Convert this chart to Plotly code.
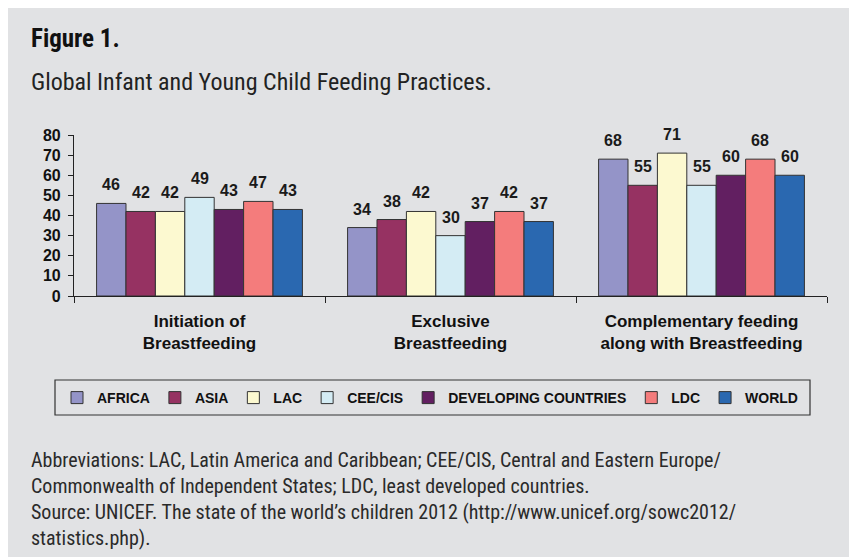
import plotly.graph_objects as go

categories = ["Initiation of<br>Breastfeeding", "Exclusive<br>Breastfeeding",
              "Complementary feeding<br>along with Breastfeeding"]
series_names = ["AFRICA", "ASIA", "LAC", "CEE/CIS", "DEVELOPING COUNTRIES", "LDC", "WORLD"]
africa = [46, 34, 68]
asia = [42, 38, 55]
lac = [42, 42, 71]
cee_cis = [49, 30, 55]
developing = [43, 37, 60]
ldc = [47, 42, 68]
world = [43, 37, 60]
y_ticks = [0, 10, 20, 30, 40, 50, 60, 70, 80]

series_values = [africa, asia, lac, cee_cis, developing, ldc, world]
colors = ["#9494c8", "#963262", "#fcf9d0", "#d4ecf4", "#621f61", "#f47c7c", "#2a68b0"]

# page offset (browser body margin)
OFF = 8
W, H = 857 - OFF, 557 - OFF
ML, MR, MT, MB = 74 - OFF, 30, 135 - OFF, 261
PW = W - ML - MR
PH = H - MT - MB
BARGAP = 0.18
NS = len(series_names)
BAR_PX = PW / len(categories) * (1 - BARGAP) / NS


def px(x):
    return (x - OFF - ML) / PW


def py(y):
    return (H - MB - (y - OFF)) / PH


BOLD = "Liberation Sans, Arial, sans-serif"
NARROW = "Liberation Sans Narrow, Arial Narrow, Roboto Condensed, sans-serif"

fig = go.Figure()
annotations = []
for i, (name, vals, col) in enumerate(zip(series_names, series_values, colors)):
    fig.add_trace(go.Bar(
        x=categories, y=vals, name=name,
        marker=dict(color=col, line=dict(color="#333333", width=1)),
    ))
    for cat, v in zip(categories, vals):
        annotations.append(dict(
            x=cat, y=v, xref="x", yref="y", text=str(v), showarrow=False,
            xanchor="center", yanchor="bottom", xshift=(i - (NS - 1) / 2) * BAR_PX, yshift=8,
            font=dict(family=BOLD, size=16, color="#1a1a1a", weight="bold"),
        ))

shapes = [
    dict(type="rect", xref="paper", yref="paper", x0=px(55), x1=px(810),
         y0=py(415), y1=py(380), fillcolor="rgba(0,0,0,0)", line=dict(color="#333333", width=1.2)),
]

annotations += [
    dict(text="<b>Figure 1.</b>", xref="paper", yref="paper", x=px(29), y=py(22),
         xanchor="left", yanchor="top", showarrow=False,
         font=dict(family=NARROW, size=25, color="#111111")),
    dict(text="Global Infant and Young Child Feeding Practices.", xref="paper", yref="paper",
         x=px(29), y=py(66), xanchor="left", yanchor="top", showarrow=False,
         font=dict(family=NARROW, size=24, color="#222222")),
    dict(text="Abbreviations: LAC, Latin America and Caribbean; CEE/CIS, Central and Eastern Europe/<br>"
              "Commonwealth of Independent States; LDC, least developed countries.<br>"
              "Source: UNICEF. The state of the world\u2019s children 2012 (http://www.unicef.org/sowc2012/<br>"
              "statistics.php).",
         xref="paper", yref="paper", x=px(29), y=py(446), xanchor="left", yanchor="top",
         align="left", showarrow=False,
         font=dict(family=NARROW, size=20, color="#2a2a2a")),
]

fig.update_layout(
    width=W, height=H,
    margin=dict(l=ML, r=MR, t=MT, b=MB),
    paper_bgcolor="#e1e2e4", plot_bgcolor="rgba(0,0,0,0)",
    barmode="group", bargap=BARGAP, bargroupgap=0,
    showlegend=True,
    legend=dict(orientation="h", x=px(430), y=py(398), xanchor="center", yanchor="middle",
                font=dict(family=BOLD, size=14, color="#111111", weight="bold"),
                bgcolor="rgba(0,0,0,0)", borderwidth=0, itemwidth=30,
                tracegroupgap=0),
    shapes=shapes, annotations=annotations,
)
fig.update_xaxes(
    type="category", showline=True, linecolor="#222222", linewidth=1.2,
    ticks="outside", tickson="boundaries", ticklen=6, tickcolor="#222222",
    tickfont=dict(family=BOLD, size=17, color="#111111", weight="bold"),
    showgrid=False, zeroline=False,
    ticklabelstandoff=9,
)
fig.update_yaxes(
    range=[0, 80], tickvals=y_ticks, showline=True, linecolor="#222222", linewidth=1.2,
    ticks="outside", ticklen=5, tickcolor="#222222",
    tickfont=dict(family=BOLD, size=16, color="#111111", weight="bold"),
    showgrid=False, zeroline=False, ticklabelstandoff=4,
)

fig.write_html("out.html")
